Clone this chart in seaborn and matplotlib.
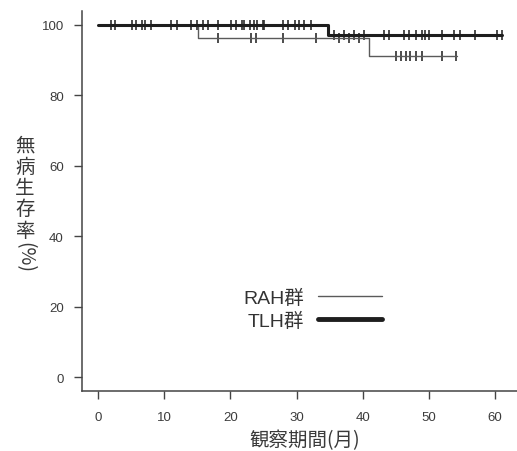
import matplotlib

matplotlib.use("Agg")
import matplotlib.pyplot as plt
import numpy as np
import pandas as pd
import seaborn as sns

# step curves (months, survival %)
rah_event_months = [0.0, 15.05, 40.9]
rah_survival = [100.0, 96.3, 91.2]
rah_last_month = 54.3
rah_censored = [2.6, 5.8, 7.1, 11.9, 18.1, 23.1, 23.9, 27.9, 32.9, 36.4, 37.9, 39.4,
                45.0, 45.8, 46.5, 47.2, 48.0, 49.0, 52.0, 54.0]

tlh_event_months = [0.0, 34.8]
tlh_survival = [100.0, 97.1]
tlh_last_month = 61.0
tlh_censored = [2.0, 5.1, 6.6, 8.1, 11.1, 14.1, 14.9, 15.9, 16.6, 18.1, 20.1, 20.9,
                21.7, 22.1, 22.9, 23.6, 24.1, 24.9, 25.1, 27.9, 28.7, 29.7, 30.4,
                31.2, 32.2, 35.7, 37.2, 38.7, 40.2, 43.2, 43.9, 46.2, 47.0, 48.0,
                49.0, 49.4, 50.0, 51.9, 53.7, 54.7, 57.0, 60.3, 61.0]

x_ticks = [0, 10, 20, 30, 40, 50, 60]
y_ticks = [0, 20, 40, 60, 80, 100]
legend_labels = ["RAH群", "TLH群"]


def step_frame(months, survival, last_month):
    return pd.DataFrame({
        "month": list(months) + [last_month],
        "survival": list(survival) + [survival[-1]],
    })


def level_at(months, survival, times):
    idx = np.searchsorted(np.asarray(months), np.asarray(times), side="right") - 1
    return np.asarray(survival)[idx]


sns.set_style("ticks")
plt.rcParams["font.family"] = ["Liberation Sans", "Noto Sans CJK JP"]
cjk = ["Noto Sans CJK JP", "Liberation Sans"]

fig = plt.figure(figsize=(5.17, 4.52), dpi=100)
ax = fig.add_axes([0.158, 0.132, 0.844, 0.842])

thin_color = "#5a5a5a"
thick_color = "#1e1e1e"

sns.lineplot(
    data=step_frame(rah_event_months, rah_survival, rah_last_month),
    x="month", y="survival", drawstyle="steps-post", estimator=None,
    color=thin_color, linewidth=1.0, label=legend_labels[0], ax=ax,
)
sns.lineplot(
    data=step_frame(tlh_event_months, tlh_survival, tlh_last_month),
    x="month", y="survival", drawstyle="steps-post", estimator=None,
    color=thick_color, linewidth=2.2, label=legend_labels[1], ax=ax,
)

for months, survival, censored in [
    (rah_event_months, rah_survival, rah_censored),
    (tlh_event_months, tlh_survival, tlh_censored),
]:
    sns.scatterplot(
        x=censored, y=level_at(months, survival, censored),
        marker="|", s=48, linewidth=1.2, color="#2e2e2e", legend=False, ax=ax,
    )

ax.set_xlim(-2.44, 63.44)
ax.set_ylim(-4, 104)
ax.set_xticks(x_ticks)
ax.set_yticks(y_ticks)
ax.set_xlabel("")
ax.set_ylabel("")
ax.tick_params(axis="both", direction="out", length=5.8, width=1.0,
               color="#444444", labelcolor="#3c3c3c", labelsize=9.5)
ax.tick_params(axis="x", pad=8)
ax.tick_params(axis="y", pad=7)
sns.despine(ax=ax)
for side in ["left", "bottom"]:
    ax.spines[side].set_color("#444444")
    ax.spines[side].set_linewidth(1.1)

# x label
fig.text(305 / 517, 1 - 441 / 452, "観察期間(月)", family=cjk, fontsize=14,
         color="#3a3a3a", ha="center", va="center")

# vertical y label: upright kanji, rotated parenthesis part
for i, ch in enumerate("無病生存率"):
    fig.text(25 / 517, 1 - (146 + i * 21.3) / 452, ch, family=cjk, fontsize=14,
             color="#3a3a3a", ha="center", va="center")
fig.text(25 / 517, 1 - 257 / 452, "(%)", family=cjk, fontsize=14, rotation=270,
         color="#3a3a3a", ha="center", va="center")

leg = ax.legend(
    loc="center", bbox_to_anchor=(313 / 517, 1 - 310 / 452),
    bbox_transform=fig.transFigure, markerfirst=False, frameon=False,
    handlelength=3.3, handletextpad=0.7, labelspacing=0.25,
    prop={"family": ["Liberation Sans", "Noto Sans CJK JP"], "size": 14},
)
for text in leg.get_texts():
    text.set_color("#333333")
leg.get_lines()[1].set_linewidth(3.5)

fig.savefig("out.png", dpi=100)
plt.close(fig)
